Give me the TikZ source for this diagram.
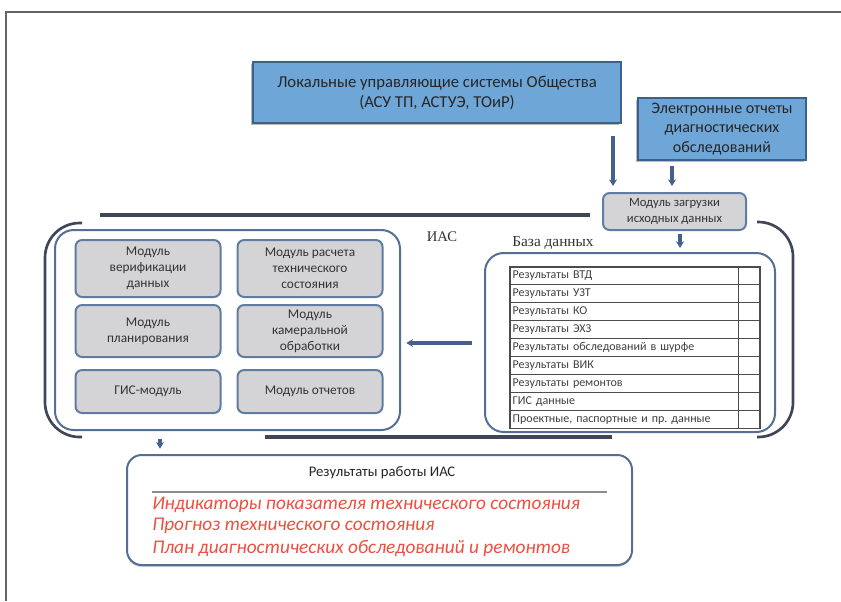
\documentclass[tikz,border=0pt]{standalone}
\usepackage{fontspec}
\setmainfont{Carlito}
\newfontfamily\serifru{Liberation Serif}
\usetikzlibrary{arrows.meta,shadows}
\frenchspacing
\definecolor{cbox}{RGB}{111, 166, 216}
\definecolor{cboxline}{RGB}{62, 96, 140}
\definecolor{cmod}{RGB}{212, 212, 214}
\definecolor{cmodline}{RGB}{96, 124, 160}
\definecolor{cgroup}{RGB}{84, 110, 148}
\definecolor{cdark}{RGB}{64, 70, 88}
\definecolor{carrow}{RGB}{70, 96, 140}
\definecolor{cred}{RGB}{236, 80, 64}
\definecolor{cframe}{RGB}{100, 100, 100}

\begin{document}
\begin{tikzpicture}[scale=0.75,
  bluebox/.style={rectangle, fill=cbox, draw=cboxline, line width=1pt, inner sep=1pt, align=center, text=black!85, font=\fontsize{12.5}{15}\selectfont, drop shadow={shadow xshift=-1.5pt, shadow yshift=-1.5pt, fill=black!55}},
  modbox/.style={rectangle, rounded corners=5pt, fill=cmod, draw=cmodline, line width=1.5pt, inner sep=1pt, align=center, text=black!80, font=\fontsize{10}{12}\selectfont},
  groupbox/.style={rectangle, rounded corners=14pt, draw=cgroup, line width=1.5pt, fill=white},
  resbox/.style={rectangle, rounded corners=11pt, draw=cgroup, line width=1.5pt, fill=white, drop shadow={shadow xshift=0pt, shadow yshift=-1.5pt, fill=black!35}},
  dbrow/.style={rectangle, draw=black!70, line width=0.8pt, fill=white, minimum width=187.5pt, minimum height=13.4pt, text width=183.5pt, inner xsep=2pt, inner ysep=0pt, align=left, text=black!75, font=\fontsize{9}{10}\selectfont},
  redline/.style={anchor=west, text=cred, inner sep=0pt, font=\itshape\fontsize{14.5}{16}\selectfont},
  arr/.style={-{Stealth[length=5pt, width=6pt]}, line width=2.6pt, color=carrow},
  bar/.style={line width=3pt, color=cdark},
  bracket/.style={line width=2pt, color=cdark, rounded corners=26pt}]
\useasboundingbox (0pt, 0pt) rectangle (841pt, -601pt);
\draw [line width=1pt, color=cframe] (6pt, -601pt) -- (6pt, -12pt) -- (841pt, -12pt);

% sources
\node (lus) [bluebox, minimum width=276pt, minimum height=45.75pt] at (437.0pt, -92.5pt) {Локальные управляющие системы Общества\\(АСУ ТП, АСТУЭ, ТОиР)};
\node (eo) [bluebox, minimum width=126pt, minimum height=46.5pt, font=\fontsize{12}{14.5}\selectfont] at (722.0pt, -129.0pt) {Электронные отчеты\\диагностических\\обследований};
\node (load) [modbox, minimum width=107.25pt, minimum height=27.75pt, font=\fontsize{9.5}{11.5}\selectfont] at (674.5pt, -211.5pt) {Модуль загрузки\\исходных данных};

% IAS group
\draw [bar] (100pt, -215pt) -- (590pt, -215pt);
\draw [bar] (265pt, -437pt) -- (612pt, -437pt);
\draw [bracket] (82pt, -223pt) -- (45pt, -223pt) -- (45pt, -437pt) -- (82pt, -437pt);
\draw [bracket] (757pt, -222pt) -- (793pt, -222pt) -- (793pt, -437pt) -- (757pt, -437pt);
\node (iaslabel) [font=\serifru\fontsize{11}{13}\selectfont, text=black!80] at (442pt, -237pt) {ИАС};
\node (dblabel) [font=\serifru\fontsize{11.5}{13}\selectfont, text=black!80] at (553pt, -243pt) {База данных};

\node (ias) [groupbox, minimum width=258.75pt, minimum height=150pt] at (227.5pt, -330.0pt) {};
\node (m1) [modbox, minimum width=108.75pt, minimum height=42.75pt] at (148.0pt, -268.5pt) {Модуль\\верификации\\данных};
\node (m2) [modbox, minimum width=108.75pt, minimum height=42.75pt] at (310.0pt, -268.5pt) {Модуль расчета\\технического\\состояния};
\node (m3) [modbox, minimum width=108.75pt, minimum height=39pt] at (148.0pt, -331.0pt) {Модуль\\планирования};
\node (m4) [modbox, minimum width=108.75pt, minimum height=39pt] at (310.0pt, -331.0pt) {Модуль\\камеральной\\обработки};
\node (m5) [modbox, minimum width=108.75pt, minimum height=32.25pt] at (148.0pt, -391.5pt) {ГИС-модуль};
\node (m6) [modbox, minimum width=108.75pt, minimum height=32.25pt] at (310.0pt, -391.5pt) {Модуль отчетов};

% database
\node (db) [groupbox, minimum width=217.5pt, minimum height=134.25pt] at (630.0pt, -342.5pt) {};
\node (t1) [dbrow] at (635.0pt, -275.95pt) {Результаты ВТД};
\node (t2) [dbrow] at (635.0pt, -293.85pt) {Результаты УЗТ};
\node (t3) [dbrow] at (635.0pt, -311.75pt) {Результаты КО};
\node (t4) [dbrow] at (635.0pt, -329.65pt) {Результаты ЭХЗ};
\node (t5) [dbrow] at (635.0pt, -347.55pt) {Результаты обследований в шурфе};
\node (t6) [dbrow] at (635.0pt, -365.45pt) {Результаты ВИК};
\node (t7) [dbrow] at (635.0pt, -383.35pt) {Результаты ремонтов};
\node (t8) [dbrow] at (635.0pt, -401.25pt) {ГИС данные};
\node (t9) [dbrow] at (635.0pt, -419.15pt) {Проектные, паспортные и пр. данные};
\coordinate (tcol) at (738pt, -267pt);
\draw [line width=0.8pt, color=black!70] (tcol |- t1.north) -- (tcol |- t9.south);

% results
\node (res) [resbox, minimum width=378.75pt, minimum height=82.5pt] at (379.5pt, -510.0pt) {};
\node (restitle) [font=\fontsize{11}{13}\selectfont, text=black!85] at (382pt, -473pt) {Результаты работы ИАС};
\draw [line width=1pt, color=black!45] (152pt, -492pt) -- (607pt, -492pt);
\node (r1) [redline] at (152pt, -505pt) {Индикаторы показателя технического состояния};
\node (r2) [redline] at (152pt, -526pt) {Прогноз технического состояния};
\node (r3) [redline] at (152pt, -549pt) {План диагностических обследований и ремонтов};

% arrows
\coordinate (x1) at (613pt, 0pt);
\coordinate (x2) at (672pt, 0pt);
\coordinate (x3) at (680pt, 0pt);
\coordinate (x4) at (160pt, 0pt);
\coordinate (y1) at (0pt, -343pt);
\draw [arr, shorten <=9pt, shorten >=4.5pt] (lus.south -| x1) to (load.north -| x1);
\draw [arr, shorten <=4pt, shorten >=4.5pt] (eo.south -| x2) to (load.north -| x2);
\draw [arr, shorten <=2pt, shorten >=3pt] (load.south -| x3) to (db.north -| x3);
\draw [arr, shorten <=9pt, shorten >=4pt] (db.west |- y1) to (ias.east |- y1);
\draw [arr, shorten <=6pt, shorten >=4pt] (ias.south -| x4) to (res.north -| x4);
\end{tikzpicture}
\end{document}
